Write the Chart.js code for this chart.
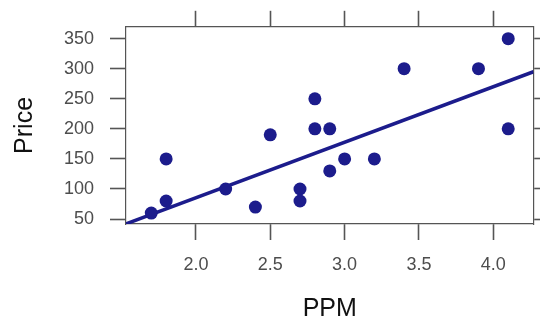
<!DOCTYPE html>
<html>
<head>
<meta charset="utf-8">
<script src="https://cdn.jsdelivr.net/npm/chart.js@4/dist/chart.umd.min.js"></script>
<style>
  html, body { margin: 0; padding: 0; background: #fff; }
</style>
</head>
<body>
<canvas id="plot" width="540" height="324"></canvas>
<script>
// PPM vs Price
const ppm = [1.7, 1.8, 1.8, 2.2, 2.4, 2.5, 2.7, 2.7, 2.8, 2.8, 2.9, 2.9, 3.0, 3.2, 3.4, 3.9, 4.1, 4.1];
const price = [60, 80, 150, 100, 70, 190, 100, 80, 250, 200, 200, 130, 150, 150, 300, 300, 350, 200];

// fitted line, read at the panel edges
const fitX = [1.53, 4.27];
const fitY = [42, 295];

const xTicks = [2.0, 2.5, 3.0, 3.5, 4.0];
const yTicks = [50, 100, 150, 200, 250, 300, 350];
const xRange = [1.53, 4.27];
const yRange = [41.8, 369.7];

const navy = '#1c1c8c';
const axisCol = '#555555';
const textCol = '#4d4d4d';
const fam = '"Liberation Sans", Arial, sans-serif';

const setTicks = vals => scale => { scale.ticks = vals.map(v => ({ value: v })); };

function axisGrid() {
    return {
        drawOnChartArea: false,
        drawTicks: true,
        tickLength: 16,
        tickWidth: 1.6,
        tickColor: axisCol
    };
}
const border = { display: true, color: axisCol, width: 1.2 };

new Chart(document.getElementById('plot'), {
    type: 'scatter',
    data: {
        datasets: [
            {
                label: 'Price',
                data: ppm.map((x, i) => ({ x: x, y: price[i] })),
                backgroundColor: navy,
                borderWidth: 0,
                pointRadius: 6.5
            },
            {
                type: 'line',
                label: 'fit',
                data: fitX.map((x, i) => ({ x: x, y: fitY[i] })),
                borderColor: navy,
                borderWidth: 3.5,
                pointRadius: 0,
                fill: false
            }
        ]
    },
    options: {
        responsive: false,
        animation: false,
        layout: { padding: 0 },
        plugins: { legend: { display: false }, tooltip: { enabled: false } },
        scales: {
            x: {
                type: 'linear', position: 'bottom',
                min: xRange[0], max: xRange[1],
                afterBuildTicks: setTicks(xTicks),
                afterFit: s => { s.height = 100; },
                grid: axisGrid(), border: border,
                ticks: {
                    padding: 14, color: textCol,
                    font: { family: fam, size: 18 },
                    callback: v => Number(v).toFixed(1)
                },
                title: {
                    display: true, text: 'PPM', color: '#111',
                    font: { family: fam, size: 25 },
                    padding: { top: 0, bottom: 0 }
                }
            },
            x2: {
                type: 'linear', position: 'top',
                min: xRange[0], max: xRange[1],
                afterBuildTicks: setTicks(xTicks),
                afterFit: s => { s.height = 25; },
                grid: axisGrid(), border: border,
                ticks: { display: false }
            },
            y: {
                type: 'linear', position: 'left',
                min: yRange[0], max: yRange[1],
                afterBuildTicks: setTicks(yTicks),
                afterFit: s => { s.width = 126; },
                grid: axisGrid(), border: border,
                ticks: {
                    padding: 16, color: textCol,
                    font: { family: fam, size: 18 }
                },
                title: {
                    display: true, text: 'Price', color: '#111',
                    font: { family: fam, size: 25 },
                    padding: { top: 10, bottom: 0 }
                }
            },
            y2: {
                type: 'linear', position: 'right',
                min: yRange[0], max: yRange[1],
                afterBuildTicks: setTicks(yTicks),
                afterFit: s => { s.width = 6; },
                grid: axisGrid(), border: border,
                ticks: { display: false }
            }
        }
    }
});
</script>
</body>
</html>
